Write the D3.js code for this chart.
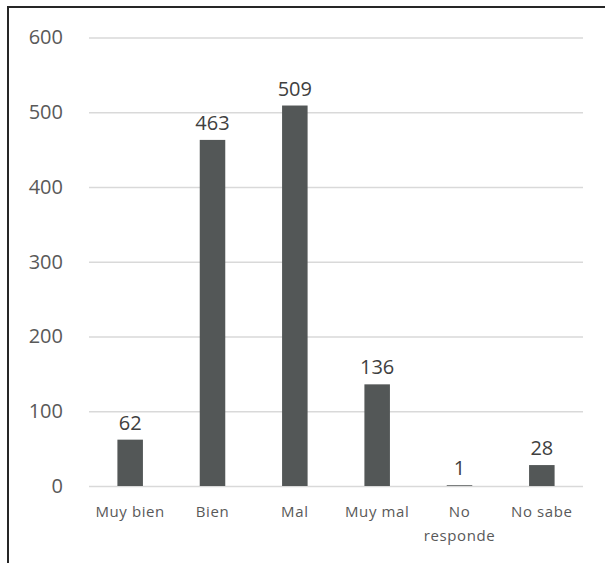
<!DOCTYPE html>
<html>
<head>
<meta charset="utf-8">
<script src="https://cdn.jsdelivr.net/npm/d3@7"></script>
<style>
  html, body { margin: 0; padding: 0; background: #fff; }
  svg { display: block; }
</style>
</head>
<body>
<svg id="chart" width="605" height="563"></svg>
<script>
const categories = ["Muy bien", "Bien", "Mal", "Muy mal", "No responde", "No sabe"];
const categoryLines = [["Muy bien"], ["Bien"], ["Mal"], ["Muy mal"], ["No", "responde"], ["No sabe"]];
const values = [62, 463, 509, 136, 1, 28];
const yTicks = [0, 100, 200, 300, 400, 500, 600];

const svg = d3.select("#chart");
const W = 605, H = 563;
const plotLeft = 89, plotRight = 583, plotTop = 37.5, plotBottom = 486;

// frame
svg.append("line").attr("x1", 8).attr("x2", W).attr("y1", 7).attr("y2", 7)
  .attr("stroke", "#262626").attr("stroke-width", 2);
svg.append("line").attr("x1", 8).attr("x2", 8).attr("y1", 6).attr("y2", H)
  .attr("stroke", "#262626").attr("stroke-width", 2);

const x = d3.scaleBand().domain(categories).range([plotLeft, plotRight])
  .paddingInner(0.69).paddingOuter(0.345);
const y = d3.scaleLinear().domain([0, 600]).range([plotBottom, plotTop]);

const yAxis = d3.axisLeft(y).tickValues(yTicks).tickSize(-(plotRight - plotLeft)).tickPadding(26);
const gy = svg.append("g").attr("transform", `translate(${plotLeft},0)`).call(yAxis);
gy.select(".domain").remove();
gy.selectAll(".tick line").attr("stroke", "#d9d9d9").attr("stroke-width", 1.5);
gy.selectAll(".tick text")
  .attr("fill", "#595959")
  .style("font-family", "'Open Sans', sans-serif")
  .style("font-size", "20px");

svg.append("g").selectAll("rect").data(values).join("rect")
  .attr("x", (d, i) => x(categories[i]))
  .attr("width", x.bandwidth())
  .attr("y", d => y(d))
  .attr("height", d => y(0) - y(d))
  .attr("fill", "#535757");

svg.append("g").selectAll("text").data(values).join("text")
  .attr("x", (d, i) => x(categories[i]) + x.bandwidth() / 2)
  .attr("y", d => y(d) - 10)
  .attr("text-anchor", "middle")
  .attr("fill", "#404040")
  .style("font-family", "'Open Sans', sans-serif")
  .style("font-size", "20px")
  .text(d => d);

const xl = svg.append("g").selectAll("text").data(categories).join("text")
  .attr("x", d => x(d) + x.bandwidth() / 2)
  .attr("y", plotBottom + 31)
  .attr("text-anchor", "middle")
  .attr("fill", "#595959")
  .style("font-family", "'Open Sans', sans-serif")
  .style("font-size", "15px")
  .style("letter-spacing", "0.6px");
xl.each(function(d, i) {
  const t = d3.select(this);
  categoryLines[i].forEach((ln, j) => {
    t.append("tspan").attr("x", x(d) + x.bandwidth() / 2).attr("dy", j === 0 ? 0 : 24).text(ln);
  });
});
</script>
</body>
</html>
